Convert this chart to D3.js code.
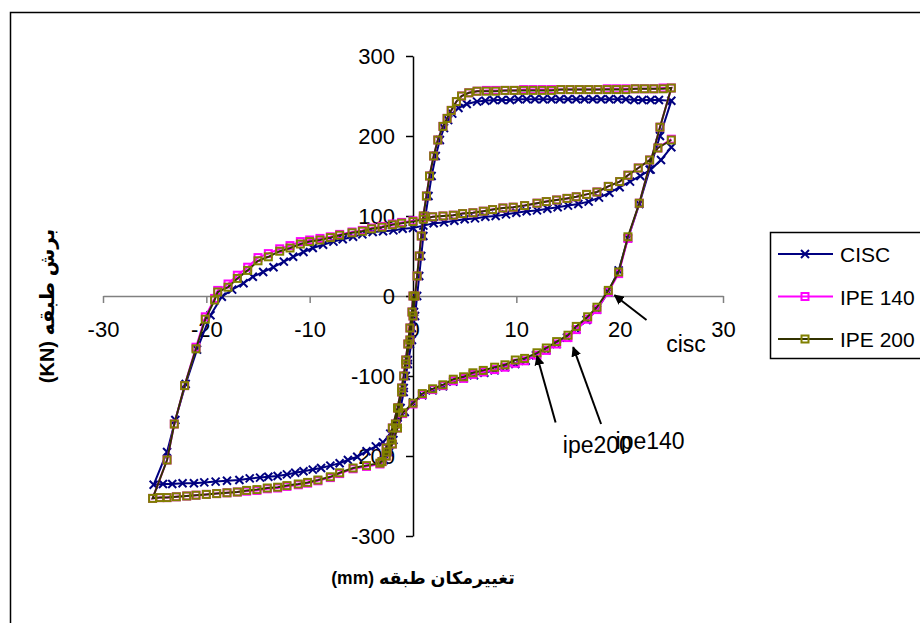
<!DOCTYPE html>
<html><head><meta charset="utf-8">
<script src="https://cdn.jsdelivr.net/npm/d3@7"></script>
<style>body{margin:0;background:#fff}svg{display:block}</style>
</head><body><svg id="c" width="920" height="623"></svg>
<script>
// ---------- data ----------
const seriesNames = ["CISC", "IPE 140", "IPE 200"];
const xTicks = [-30, -20, -10, 0, 10, 20, 30];
const yTicks = [-300, -200, -100, 0, 100, 200, 300];

const cisc_x = [0.2,0.1,-0.1,-0.3,-0.5,-0.7,-0.9,-1.2,-1.5,-1.9,-2.3,-2.8,
  -2.4,-1.8,-1.3,-0.9,-0.5,-0.1,0.2,0.4,0.6,0.8,1.0,1.2,1.5,1.8,2.2,2.6,3.0,3.4,3.8,4.4,5.2,6.2,
  7.0,7.8,8.6,9.4,10.2,11.0,11.8,12.6,13.4,14.2,15.0,15.8,16.6,17.4,18.2,19.0,19.8,20.6,21.4,22.2,23.0,23.8,25.0,
  23.9,22.9,21.9,20.8,19.9,18.9,17.8,16.8,15.8,14.9,13.9,12.9,11.9,10.9,9.9,8.9,7.9,6.9,5.9,4.9,3.9,2.9,1.9,0.9,0.0,-0.8,-1.5,-2.2,-2.9,-3.6,
  -4.5,-5.4,-6.3,-7.1,-8.0,-8.9,-9.7,-10.6,-11.4,-12.2,-13.1,-14.0,-14.8,-15.8,-16.8,-18.0,-19.1,-20.2,-21.2,-22.3,-23.3,-24.2,-25.1,
  -23.8,-23.0,-22.0,-20.9,-19.6,-18.5,-17.5,-16.4,-15.5,-14.5,-13.5,-12.5,-11.6,-10.6,-9.7,-8.7,-7.7,-6.8,-5.8,-4.9,-3.9,-2.9,-1.9,-1.0,0.0,
  1.0,2.0,3.0,4.0,5.0,6.0,7.0,8.0,9.0,10.0,11.0,12.0,13.0,14.0,15.0,16.0,17.0,18.0,19.0,20.0,21.0,22.0,23.0,24.0,25.0];
const cisc_y = [0,-20,-40,-60,-80,-100,-120,-140,-160,-180,-195,-205,
  -190,-165,-140,-115,-85,-55,-25,0,25,50,75,100,125,150,175,195,210,220,228,235,240,243,
  244,245,245,245,246,246,246,246,246,246,246,246,246,246,246,246,246,246,245,245,245,245,244,
  200,158,115,72,32,5,-17,-30,-42,-52,-60,-68,-74,-81,-85,-89,-93,-96,-99,-103,-107,-113,-118,-124,-133,-145,-160,-172,-183,-188,
  -194,-201,-205,-209,-212,-215,-217,-219,-221,-223,-225,-226,-227,-228,-230,-231,-232,-233,-234,-234,-235,-235,-236,
  -195,-155,-110,-67,-24,-1,8,16,24,30,36,43,49,55,60,64,68,71,74,77,80,81,82,84,85,
  88,91,92,94,96,97,99,100,102,104,106,107,109,111,113,115,118,123,129,136,143,150,158,170,186];

const ipe140_x = [0.0,-0.1,-0.3,-0.5,-0.7,-0.9,-1.1,-1.4,-1.7,-2.1,-2.5,-3.0,
  -2.6,-2.0,-1.5,-1.1,-0.7,-0.3,0.0,0.2,0.4,0.6,0.8,1.0,1.3,1.6,2.0,2.4,2.9,3.3,3.7,4.2,4.7,5.4,6.2,
  7.1,8.0,8.9,9.8,10.7,11.6,12.5,13.4,14.3,15.2,16.1,17.0,17.9,18.8,19.7,20.6,21.5,22.4,23.3,24.2,25.0,
  23.9,21.9,20.8,19.9,18.9,17.8,16.9,15.8,15.0,13.9,12.9,12.0,10.8,9.9,8.9,7.9,6.8,5.8,4.9,3.9,2.9,1.9,0.9,0.0,-1.0,
  -1.5,-2.0,-2.6,-3.2,-4.5,-5.8,-7.1,-8.0,-9.2,-10.2,-11.1,-12.2,-13.1,-14.1,-15.1,-16.1,-17.0,-18.0,-19.0,-20.0,-21.0,-21.9,-22.9,-23.8,-24.5,-25.2,
  -23.8,-23.1,-22.1,-21.0,-20.1,-19.2,-18.9,-17.9,-17.0,-16.0,-15.0,-14.0,-12.9,-11.9,-10.9,-10.0,-9.0,-8.0,-7.1,-5.9,-4.9,-4.0,-3.0,-2.0,-1.1,0.0,
  1.0,1.9,2.9,3.9,4.8,5.8,6.8,7.7,8.7,9.7,10.8,12.0,12.9,13.9,14.9,15.8,16.8,17.8,18.9,20.0,20.8,21.8,22.9,23.7,25.0];
const ipe140_y = [0,-20,-40,-60,-80,-100,-120,-140,-160,-180,-195,-207,
  -190,-165,-140,-115,-85,-55,-25,0,25,50,75,100,125,150,175,195,212,222,232,243,250,254,256,
  257,257,257,257,258,258,258,258,258,258,258,258,258,259,259,259,259,259,259,260,260,
  211,116,72,28,5,-17,-29,-42,-52,-60,-68,-74,-81,-84,-89,-92,-95,-98,-103,-106,-112,-117,-123,-135,-147,
  -165,-185,-200,-210,-213,-216,-222,-227,-231,-234,-236,-238,-240,-241,-243,-244,-245,-246,-247,-248,-249,-250,-251,-252,-252,-253,
  -205,-160,-112,-64,-26,-3,7,15,26,36,48,53,59,63,68,70,72,74,77,80,82,85,87,90,92,94,
  97,99,100,101,103,104,106,108,110,111,113,116,118,120,122,124,127,130,137,143,151,160,170,185,196];

const ipe200_x = [0.0,-0.1,-0.3,-0.5,-0.7,-0.9,-1.1,-1.4,-1.7,-2.1,-2.5,-3.0,
  -2.6,-2.0,-1.5,-1.1,-0.7,-0.3,0.0,0.2,0.4,0.6,0.8,1.0,1.3,1.6,2.0,2.4,2.9,3.3,3.7,4.2,4.7,5.4,6.2,
  7.1,8.0,8.9,9.8,10.7,11.6,12.5,13.4,14.3,15.2,16.1,17.0,17.9,18.8,19.7,20.6,21.5,22.4,23.3,24.2,25.0,
  23.9,21.9,20.8,19.9,18.9,17.8,16.9,15.8,15.0,13.9,12.9,12.0,10.8,9.9,8.9,7.9,6.8,5.8,4.9,3.9,2.9,1.9,0.9,0.0,-1.0,
  -1.5,-2.0,-2.6,-3.2,-4.5,-5.8,-7.1,-8.0,-9.2,-10.2,-11.1,-12.2,-13.1,-14.1,-15.1,-16.1,-17.0,-18.0,-19.0,-20.0,-21.0,-21.9,-22.9,-23.8,-24.5,-25.2,
  -23.8,-23.1,-22.1,-21.0,-20.1,-19.2,-18.9,-17.9,-17.0,-16.0,-15.0,-14.0,-12.9,-11.9,-10.9,-10.0,-9.0,-8.0,-7.1,-5.9,-4.9,-4.0,-3.0,-2.0,-1.1,0.0,
  1.0,1.9,2.9,3.9,4.8,5.8,6.8,7.7,8.7,9.7,10.8,12.0,12.9,13.9,14.9,15.8,16.8,17.8,18.9,20.0,20.8,21.8,22.9,23.7,25.0];
const ipe200_y = [0,-20,-40,-60,-80,-100,-120,-140,-160,-180,-195,-207,
  -190,-165,-140,-115,-85,-55,-25,0,25,50,75,100,125,150,175,195,212,222,232,243,250,254,256,
  256,256,257,257,257,257,257,257,258,258,258,258,258,258,258,258,259,259,259,259,260,
  211,116,74,30,7,-14,-26,-38,-49,-57,-65,-71,-78,-80,-86,-89,-93,-96,-101,-104,-111,-116,-122,-134,-146,
  -165,-185,-200,-209,-212,-215,-221,-226,-230,-233,-235,-237,-239,-240,-242,-243,-245,-246,-247,-248,-249,-250,-251,-252,-252,-253,
  -205,-160,-112,-66,-29,-5,5,11,22,32,44,49,56,60,65,68,70,73,76,79,81,84,86,89,91,93,
  96,99,100,101,103,104,106,108,110,111,113,116,118,120,122,124,127,130,137,143,151,160,170,185,195];

// annotations: [label, text x, text y, arrow tip x, arrow tip y]  (data units)
const notes = [["cisc", 24.5, -70, 19.5, 1], ["ipe200", 14.5, -196, 12, -75], ["ipe140", 19.6, -191, 15.5, -64]];

// ---------- drawing ----------
const svg = d3.select("#c");
const x = d3.scaleLinear().domain([-30, 30]).range([103, 723]);
const y = d3.scaleLinear().domain([-300, 300]).range([536, 56]);
const FONT = "'Liberation Sans', Arial, 'DejaVu Sans', sans-serif";
const fmt = d => String(d);

// outer frame
svg.append("rect").attr("x", 10.5).attr("y", 12.5).attr("width", 930).attr("height", 640)
  .attr("fill", "none").attr("stroke", "#000").attr("stroke-width", 1.5);

// x axis
const gx = svg.append("g").attr("transform", `translate(0,${y(0)})`)
  .call(d3.axisBottom(x).tickValues(xTicks).tickSizeInner(7).tickSizeOuter(0).tickPadding(18).tickFormat(fmt));
gx.select(".domain").attr("stroke", "#808080").attr("stroke-width", 1.5);
gx.selectAll(".tick line").attr("stroke", "#808080").attr("stroke-width", 1.5);
gx.selectAll("text").attr("font-family", FONT).attr("font-size", 22).attr("fill", "#000");

// y axis
const gy = svg.append("g").attr("transform", `translate(${x(0)},0)`)
  .call(d3.axisLeft(y).tickValues(yTicks).tickSizeInner(7).tickSizeOuter(0).tickPadding(11).tickFormat(fmt));
gy.select(".domain").attr("stroke", "#000").attr("stroke-width", 1.5);
gy.selectAll(".tick line").attr("stroke", "#000").attr("stroke-width", 1.5);
gy.selectAll("text").attr("font-family", FONT).attr("font-size", 22).attr("fill", "#000");

// series
const styles = [
  {line: "#000080", mark: "#000080", shape: "x"},
  {line: "#FF00FF", mark: "#FF00FF", shape: "sq"},
  {line: "#333300", mark: "#808000", shape: "sq"}
];
const data = [
  d3.zip(cisc_x, cisc_y), d3.zip(ipe140_x, ipe140_y), d3.zip(ipe200_x, ipe200_y)
];
const line = d3.line().x(d => x(d[0])).y(d => y(d[1]));
function marker(g, shape, color) {
  if (shape === "x") {
    g.append("path").attr("d", "M-4,-4L4,4M-4,4L4,-4").attr("stroke", color).attr("stroke-width", 2).attr("fill", "none");
  } else {
    g.append("rect").attr("x", -3.5).attr("y", -3.5).attr("width", 7).attr("height", 7)
      .attr("stroke", color).attr("stroke-width", 2).attr("fill", "none");
  }
}
data.forEach((pts, i) => {
  const st = styles[i];
  svg.append("path").datum(pts).attr("d", line).attr("fill", "none")
    .attr("stroke", st.line).attr("stroke-width", 2);
  svg.append("g").selectAll("g").data(pts).join("g")
    .attr("transform", d => `translate(${x(d[0])},${y(d[1])})`)
    .each(function () { marker(d3.select(this), st.shape, st.mark); });
});

// annotations with arrows
svg.append("defs").append("marker").attr("id", "ah").attr("viewBox", "0 0 10 10")
  .attr("refX", 9).attr("refY", 5).attr("markerWidth", 5).attr("markerHeight", 5).attr("orient", "auto")
  .append("path").attr("d", "M0,0L10,5L0,10z").attr("fill", "#000");
const arrowStart = {cisc: [22.6, -30], ipe200: [13.8, -158], ipe140: [18.2, -160]};
notes.forEach(n => {
  const s = arrowStart[n[0]];
  svg.append("line").attr("x1", x(s[0])).attr("y1", y(s[1])).attr("x2", x(n[3])).attr("y2", y(n[4]))
    .attr("stroke", "#000").attr("stroke-width", 2).attr("marker-end", "url(#ah)");
  svg.append("text").attr("x", x(n[1])).attr("y", y(n[2])).attr("font-family", FONT)
    .attr("font-size", 23).text(n[0]);
});

// axis titles
svg.append("text").attr("x", 423).attr("y", 584).attr("text-anchor", "middle").attr("direction", "rtl")
  .attr("font-family", FONT).attr("font-weight", "bold").attr("font-size", 17.5).text("تغییرمکان طبقه (mm)");
svg.append("text").attr("transform", "translate(54,306) rotate(-90)").attr("text-anchor", "middle").attr("direction", "rtl")
  .attr("font-family", FONT).attr("font-weight", "bold").attr("font-size", 20).text("برش طبقه (KN)");

// legend
const lg = svg.append("g");
lg.append("rect").attr("x", 770.5).attr("y", 232.5).attr("width", 160).attr("height", 126)
  .attr("fill", "#fff").attr("stroke", "#000").attr("stroke-width", 1.5);
const ly = d3.scalePoint().domain(seriesNames).range([254, 339]);
seriesNames.forEach((name, i) => {
  const st = styles[i];
  lg.append("line").attr("x1", 778).attr("x2", 833).attr("y1", ly(name)).attr("y2", ly(name))
    .attr("stroke", st.line).attr("stroke-width", 2);
  marker(lg.append("g").attr("transform", `translate(805,${ly(name)})`), st.shape, st.mark);
  lg.append("text").attr("x", 840).attr("y", ly(name) + 8).attr("font-family", FONT)
    .attr("font-size", 21).text(name);
});
</script></body></html>
